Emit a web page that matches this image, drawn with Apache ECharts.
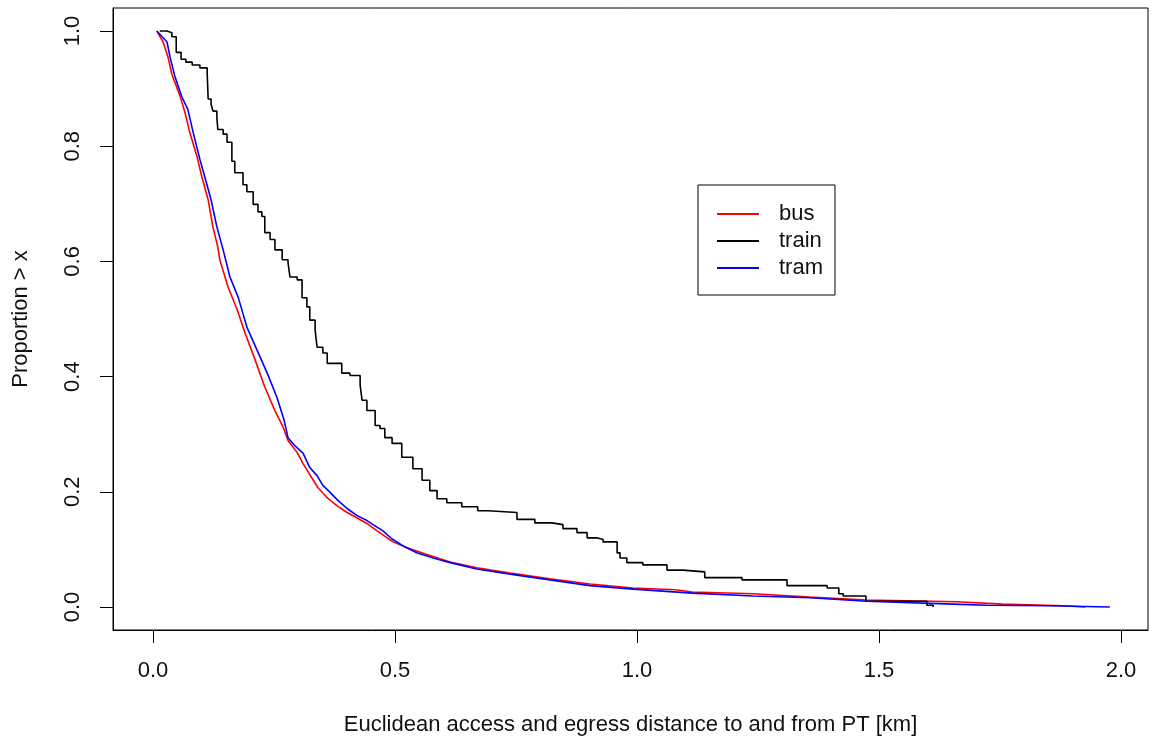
<!DOCTYPE html>
<html>
<head>
<meta charset="utf-8">
<title>Access and egress distance</title>
<script src="https://cdn.jsdelivr.net/npm/echarts@6.0.0/dist/echarts.min.js"></script>
<style>
	html, body {margin: 0; padding: 0; background: #fff;}
	#chart {width: 1152px; height: 742px;}
</style>
</head>
<body>
<div id="chart"></div>
<script>
// tick labels
var xTicks = [0, 0.5, 1, 1.5, 2];
var yTicks = [0, 0.2, 0.4, 0.6, 0.8, 1];

// proportion > x
var busData = [
	[0.008, 1.000], [0.021, 0.981], [0.031, 0.955], [0.039, 0.925], [0.056, 0.887],
	[0.066, 0.859], [0.076, 0.824], [0.091, 0.782], [0.101, 0.747], [0.114, 0.707],
	[0.124, 0.659], [0.134, 0.625], [0.138, 0.603], [0.155, 0.556], [0.174, 0.516],
	[0.190, 0.476], [0.211, 0.429], [0.231, 0.382], [0.252, 0.341], [0.269, 0.312],
	[0.279, 0.289], [0.298, 0.268], [0.310, 0.249], [0.329, 0.223], [0.341, 0.207],
	[0.362, 0.188], [0.380, 0.176], [0.401, 0.164], [0.421, 0.155], [0.442, 0.145],
	[0.463, 0.132], [0.496, 0.113], [0.525, 0.103], [0.566, 0.091], [0.614, 0.078],
	[0.669, 0.068], [0.738, 0.059], [0.820, 0.049], [0.903, 0.040], [0.992, 0.033],
	[1.079, 0.030], [1.114, 0.026], [1.240, 0.023], [1.357, 0.017], [1.475, 0.012],
	[1.661, 0.009], [1.756, 0.005], [1.880, 0.002], [1.926, 0.000]
];
var trainData = [
	[0.014, 1.000], [0.029, 0.997], [0.039, 0.990], [0.048, 0.963], [0.058, 0.951],
	[0.068, 0.946], [0.081, 0.941], [0.097, 0.936], [0.112, 0.927], [0.114, 0.882],
	[0.120, 0.873], [0.124, 0.861], [0.132, 0.850], [0.134, 0.829], [0.145, 0.821],
	[0.153, 0.807], [0.163, 0.774], [0.169, 0.754], [0.186, 0.733], [0.194, 0.721],
	[0.207, 0.699], [0.217, 0.686], [0.225, 0.678], [0.231, 0.650], [0.242, 0.638],
	[0.252, 0.620], [0.267, 0.603], [0.279, 0.598], [0.283, 0.573], [0.298, 0.568],
	[0.308, 0.537], [0.318, 0.521], [0.324, 0.498], [0.335, 0.481], [0.339, 0.451],
	[0.351, 0.441], [0.360, 0.423], [0.390, 0.406], [0.407, 0.402], [0.428, 0.385],
	[0.432, 0.359], [0.442, 0.341], [0.459, 0.315], [0.469, 0.310], [0.479, 0.294],
	[0.494, 0.284], [0.514, 0.260], [0.537, 0.240], [0.556, 0.220], [0.572, 0.202],
	[0.587, 0.188], [0.607, 0.181], [0.638, 0.174], [0.671, 0.167], [0.692, 0.164],
	[0.752, 0.152], [0.789, 0.146], [0.824, 0.143], [0.847, 0.136], [0.876, 0.129],
	[0.897, 0.120], [0.917, 0.117], [0.930, 0.113], [0.959, 0.094], [0.965, 0.085],
	[0.979, 0.077], [1.012, 0.073], [1.062, 0.064], [1.095, 0.061], [1.140, 0.051],
	[1.217, 0.047], [1.310, 0.037], [1.393, 0.033], [1.417, 0.023], [1.426, 0.019],
	[1.473, 0.010], [1.599, 0.003], [1.612, 0.000]
];
var tramData = [
	[0.008, 1.000], [0.029, 0.981], [0.035, 0.956], [0.045, 0.922], [0.060, 0.885],
	[0.072, 0.864], [0.083, 0.824], [0.097, 0.777], [0.107, 0.747], [0.120, 0.707],
	[0.132, 0.660], [0.145, 0.620], [0.159, 0.573], [0.176, 0.538], [0.194, 0.486],
	[0.215, 0.446], [0.236, 0.406], [0.256, 0.364], [0.271, 0.324], [0.279, 0.294],
	[0.293, 0.280], [0.310, 0.267], [0.324, 0.242], [0.339, 0.228], [0.351, 0.211],
	[0.366, 0.199], [0.382, 0.185], [0.401, 0.171], [0.421, 0.159], [0.442, 0.150],
	[0.475, 0.132], [0.494, 0.118], [0.517, 0.106], [0.545, 0.094], [0.579, 0.085],
	[0.614, 0.077], [0.669, 0.066], [0.738, 0.057], [0.820, 0.047], [0.903, 0.037],
	[0.992, 0.031], [1.114, 0.024], [1.240, 0.019], [1.357, 0.016], [1.475, 0.010],
	[1.653, 0.005], [1.723, 0.003], [1.853, 0.002], [1.977, 0.000]
];

var font = 'Liberation Sans, Arial, Helvetica, sans-serif';
var ink = '#111';

var chart = echarts.init(document.getElementById('chart'));

var option = {
	animation: false,
	backgroundColor: '#fff',
	textStyle: {fontFamily: font},
	grid: {
		left: 113,
		top: 8,
		width: 1035,
		height: 622,
		show: true,
		borderColor: '#000',
		borderWidth: 1,
		backgroundColor: 'transparent'
	},
	legend: {
		orient: 'vertical',
		left: 698,
		top: 185,
		padding: [18, 12, 16, 19],
		itemGap: 5,
		itemWidth: 42,
		itemHeight: 2,
		icon: 'rect',
		selectedMode: false,
		borderColor: '#000',
		borderWidth: 1,
		borderRadius: 0,
		backgroundColor: '#fff',
		textStyle: {
			fontFamily: font,
			fontSize: 22,
			lineHeight: 22,
			color: ink,
			padding: [0, 0, 0, 15]
		},
		data: ['bus', 'train', 'tram']
	},
	xAxis: {
		type: 'value',
		min: -0.0826,
		max: 2.0558,
		name: 'Euclidean access and egress distance to and from PT [km]',
		nameLocation: 'middle',
		nameGap: 84,
		nameTextStyle: {fontFamily: font, fontSize: 22, color: ink},
		axisLine: {show: true, onZero: false, lineStyle: {color: '#000', width: 1}},
		axisTick: {show: true, inside: false, length: 13, customValues: xTicks, lineStyle: {color: '#000', width: 1}},
		axisLabel: {
			show: true,
			margin: 30,
			customValues: xTicks,
			fontFamily: font,
			fontSize: 22,
			color: ink,
			formatter: function(v){ return v.toFixed(1); }
		},
		splitLine: {show: false}
	},
	yAxis: {
		type: 'value',
		min: -0.04,
		max: 1.04,
		name: 'Proportion > x',
		nameLocation: 'middle',
		nameGap: 81,
		nameTextStyle: {fontFamily: font, fontSize: 22, color: ink},
		axisLine: {show: true, onZero: false, lineStyle: {color: '#000', width: 1}},
		axisTick: {show: true, inside: false, length: 13, customValues: yTicks, lineStyle: {color: '#000', width: 1}},
		axisLabel: {
			show: true,
			rotate: 90,
			margin: 29,
			customValues: yTicks,
			fontFamily: font,
			fontSize: 22,
			color: ink,
			formatter: function(v){ return v.toFixed(1); }
		},
		splitLine: {show: false}
	},
	series: [{
		name: 'bus',
		type: 'line',
		data: busData,
		showSymbol: false,
		color: '#ff0000',
		lineStyle: {color: '#ff0000', width: 1.6}
	}, {
		name: 'train',
		type: 'line',
		step: 'end',
		data: trainData,
		showSymbol: false,
		color: '#000000',
		lineStyle: {color: '#000000', width: 1.6}
	}, {
		name: 'tram',
		type: 'line',
		data: tramData,
		showSymbol: false,
		color: '#0000ff',
		lineStyle: {color: '#0000ff', width: 1.6}
	}]
};

chart.setOption(option);
</script>
</body>
</html>
